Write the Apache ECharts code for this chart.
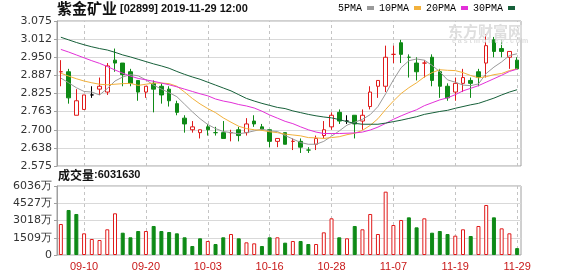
<!DOCTYPE html>
<html>
<head>
<meta charset="utf-8">
<script src="https://cdn.jsdelivr.net/npm/echarts@6/dist/echarts.min.js"></script>
<style>
html,body{margin:0;padding:0;background:#fff;}
#chart{width:578px;height:276px;}
</style>
</head>
<body>
<div id="chart"></div>
<script>
// 紫金矿业 (02899) daily K-line, 2019-09-05 .. 2019-11-29
const dates = ['09-05','09-06','09-09','09-10','09-11','09-12','09-13','09-16','09-17','09-18',
  '09-19','09-20','09-23','09-24','09-25','09-26','09-27','09-30','10-02','10-03',
  '10-04','10-08','10-09','10-10','10-11','10-14','10-15','10-16','10-17','10-18',
  '10-21','10-22','10-23','10-24','10-25','10-28','10-29','10-30','10-31','11-01',
  '11-04','11-05','11-06','11-07','11-08','11-11','11-12','11-13','11-14','11-15',
  '11-18','11-19','11-20','11-21','11-22','11-25','11-26','11-27','11-28','11-29'];

const opens = [2.90,2.90,2.75,2.77,2.82,2.84,2.83,2.94,2.93,2.90,
  2.87,2.83,2.86,2.85,2.84,2.79,2.74,2.70,2.69,2.71,
  2.69,2.69,2.69,2.70,2.69,2.73,2.71,2.70,2.66,2.69,
  2.66,2.66,2.63,2.65,2.68,2.71,2.76,2.73,2.75,2.73,
  2.78,2.85,2.85,2.96,3.00,2.95,2.93,2.93,2.95,2.90,
  2.85,2.83,2.86,2.87,2.90,2.93,3.01,2.98,2.95,2.94];

const closes = [2.90,2.81,2.80,2.82,2.82,2.85,2.92,2.93,2.89,2.86,
  2.83,2.85,2.84,2.82,2.80,2.76,2.72,2.71,2.70,2.70,
  2.69,2.67,2.69,2.68,2.72,2.72,2.70,2.66,2.67,2.65,
  2.66,2.64,2.63,2.67,2.70,2.75,2.73,2.73,2.72,2.75,
  2.83,2.87,2.95,2.96,2.96,2.95,2.90,2.93,2.87,2.85,
  2.81,2.86,2.88,2.86,2.88,2.99,2.97,2.97,2.97,2.91];

const lows = [2.85,2.79,2.75,2.77,2.81,2.82,2.82,2.90,2.85,2.85,
  2.80,2.81,2.76,2.79,2.78,2.75,2.69,2.69,2.67,2.68,
  2.68,2.67,2.66,2.66,2.68,2.71,2.70,2.64,2.64,2.65,
  2.63,2.62,2.62,2.63,2.67,2.70,2.72,2.72,2.67,2.70,
  2.77,2.81,2.83,2.93,2.93,2.88,2.87,2.88,2.85,2.81,
  2.80,2.80,2.83,2.81,2.85,2.88,2.95,2.95,2.91,2.91];

const highs = [2.94,2.91,2.84,2.82,2.85,2.88,2.93,2.98,2.93,2.91,
  2.87,2.85,2.87,2.86,2.85,2.80,2.75,2.73,2.70,2.72,
  2.71,2.73,2.70,2.71,2.74,2.75,2.72,2.70,2.67,2.69,
  2.67,2.67,2.64,2.68,2.73,2.76,2.77,2.75,2.75,2.77,
  2.85,2.87,2.99,2.99,3.01,2.96,2.95,2.94,2.96,2.91,
  2.86,2.88,2.91,2.88,2.91,3.03,3.02,3.01,2.97,2.95];

// turnover in 万股
const volumes = [2712,3937,3587,1896,1400,1312,2248,3648,1951,1548,
  2099,2099,2537,2099,2012,1896,1548,787,1461,1225,
  962,1548,1837,1461,1108,1020,787,1548,1548,1079,
  1225,1225,962,962,1983,3208,1548,1461,2537,2248,
  3587,1837,5540,2624,3062,3295,2420,3208,1951,2099,
  1837,1691,2248,1662,2537,4374,3295,2333,1896,603.163];

const ma5 = [2.878,2.862,2.845,2.832,2.830,2.820,2.842,2.868,2.882,2.890,
  2.886,2.872,2.854,2.840,2.828,2.814,2.788,2.762,2.738,2.718,
  2.704,2.694,2.690,2.686,2.690,2.696,2.702,2.696,2.694,2.680,
  2.668,2.656,2.650,2.650,2.660,2.678,2.696,2.716,2.726,2.736,
  2.752,2.780,2.824,2.872,2.914,2.938,2.944,2.940,2.922,2.900,
  2.872,2.864,2.854,2.852,2.858,2.894,2.916,2.934,2.956,2.962];

const ma10 = [2.895,2.885,2.876,2.868,2.862,2.857,2.855,2.857,2.859,2.860,
  2.853,2.857,2.861,2.861,2.859,2.850,2.830,2.808,2.789,2.773,
  2.759,2.741,2.726,2.712,2.704,2.700,2.698,2.693,2.690,2.685,
  2.682,2.679,2.673,2.672,2.670,2.673,2.676,2.683,2.688,2.698,
  2.715,2.738,2.770,2.799,2.825,2.845,2.862,2.882,2.897,2.907,
  2.905,2.904,2.897,2.887,2.879,2.883,2.890,2.894,2.904,2.910];

const ma20 = [2.977,2.968,2.958,2.948,2.938,2.929,2.918,2.906,2.895,2.885,
  2.877,2.872,2.867,2.861,2.855,2.848,2.840,2.832,2.824,2.817,
  2.806,2.799,2.794,2.787,2.782,2.775,2.764,2.751,2.740,2.729,
  2.721,2.710,2.700,2.692,2.687,2.687,2.687,2.688,2.689,2.692,
  2.699,2.709,2.722,2.736,2.748,2.759,2.769,2.783,2.793,2.803,
  2.810,2.821,2.834,2.843,2.852,2.864,2.876,2.888,2.901,2.909];

const ma30 = [3.019,3.010,3.001,2.993,2.986,2.980,2.975,2.967,2.958,2.951,
  2.943,2.935,2.927,2.920,2.912,2.901,2.891,2.882,2.874,2.864,
  2.854,2.844,2.834,2.821,2.808,2.799,2.791,2.784,2.777,2.773,
  2.765,2.759,2.753,2.748,2.744,2.741,2.735,2.728,2.722,2.719,
  2.719,2.719,2.723,2.728,2.733,2.739,2.745,2.753,2.758,2.763,
  2.767,2.774,2.780,2.786,2.791,2.800,2.809,2.820,2.830,2.838];

const priceTicks = ['2.575','2.638','2.700','2.763','2.825','2.887','2.950','3.012','3.075'];
const volumeTicks = ['0','1509万','3018万','4527万','6036万'];
const dateLabels = ['09-10','09-20','10-03','10-16','10-28','11-07','11-19','11-29'];

const RED = '#e01b1b';
const GREEN = '#0e8a16';
const FRAME = '#a0a0a0';

// candles; a cross (open == close) takes its colour from the previous close
const candleData = dates.map((d, i) => {
  const item = { value: [opens[i], closes[i], lows[i], highs[i]] };
  if (opens[i] === closes[i]) {
    const prev = i > 0 ? closes[i - 1] : -Infinity;
    const c = closes[i] > prev ? RED : (closes[i] < prev ? GREEN : '#000');
    item.itemStyle = { color: c, color0: c, borderColor: c, borderColor0: c };
  }
  return item;
});

// volume bars: hollow red when the close did not fall, solid green otherwise
const volumeData = volumes.map((v, i) => {
  const up = i === 0 || closes[i] >= closes[i - 1];
  return {
    value: v,
    itemStyle: up ? { color: '#fff', borderColor: RED, borderWidth: 1 } : { color: GREEN, borderColor: GREEN, borderWidth: 1 }
  };
});

const latestVolume = String(Math.round(volumes[volumes.length - 1] * 10000));

const dateGrid = {
  data: dateLabels.map(d => ({ xAxis: d })),
  symbol: ['none', 'none'],
  silent: true,
  z: 1,
  label: { show: false },
  lineStyle: { type: [3, 3], color: '#c4c4c4', width: 1 },
  animation: false
};

const maSeries = [
  ['5PMA', ma5, '#9a9a9a'],
  ['10PMA', ma10, '#f2b13c'],
  ['20PMA', ma20, '#e330d8'],
  ['30PMA', ma30, '#17603a']
].map(([name, data, color]) => ({
  name, type: 'line', data, xAxisIndex: 0, yAxisIndex: 0,
  symbol: 'none', showSymbol: false, color, z: 3,
  lineStyle: { width: 1, color }
}));

const chart = echarts.init(document.getElementById('chart'), null, { renderer: 'canvas' });
chart.setOption({
  animation: false,
  backgroundColor: '#fff',
  title: [
    {
      text: '{a|紫金矿业}{b|[02899] 2019-11-29 12:00}',
      left: 57, top: 1, padding: 0,
      textStyle: { rich: {
        a: { fontFamily: 'Noto Sans CJK SC', fontSize: 15, color: '#111', padding: [0, 3, 0, 0] },
        b: { fontFamily: 'Liberation Sans', fontSize: 11, color: '#111' }
      } }
    },
    {
      text: '{a|成交量}{b|:' + latestVolume + '}',
      left: 58, top: 169, padding: 0,
      textStyle: { rich: {
        a: { fontFamily: 'Noto Sans CJK SC', fontSize: 12, color: '#111' },
        b: { fontFamily: 'Liberation Sans', fontSize: 11, color: '#111' }
      } }
    },
    {
      text: '东方财富网',
      left: 448, top: 24, padding: 0,
      textStyle: { fontFamily: 'Noto Sans CJK SC', fontSize: 15, fontWeight: 'bold', color: '#dedede' }
    },
    {
      text: 'e a s t m o n e y . c o m',
      left: 452, top: 38, padding: 0,
      textStyle: { fontFamily: 'Liberation Sans', fontSize: 7, color: '#dedede' }
    }
  ],
  legend: {
    data: ['5PMA', '10PMA', '20PMA', '30PMA'],
    left: 338, top: 3, padding: 0,
    align: 'right', icon: 'rect', itemWidth: 7, itemHeight: 4, itemGap: 5,
    selectedMode: false,
    textStyle: { fontFamily: 'Liberation Mono', fontSize: 10, color: '#000', padding: 0 }
  },
  grid: [
    { left: 57, top: 21, width: 464, height: 145, show: true, borderColor: FRAME, borderWidth: 1 },
    { left: 57, top: 186, width: 464, height: 69, show: true, borderColor: FRAME, borderWidth: 1 }
  ],
  xAxis: [
    {
      type: 'category', gridIndex: 0, data: dates, boundaryGap: true,
      axisLine: { show: false }, axisTick: { show: false },
      axisLabel: { show: false }, splitLine: { show: false }
    },
    {
      type: 'category', gridIndex: 1, data: dates, boundaryGap: true,
      axisLine: { show: false }, axisTick: { show: false },
      axisLabel: {
        interval: (i, v) => dateLabels.includes(v),
        color: '#c81818', fontSize: 11, fontFamily: 'Liberation Sans', margin: 6
      },
      splitLine: { show: false }
    }
  ],
  yAxis: [
    {
      type: 'value', gridIndex: 0, min: 2.575, max: 3.075, interval: 0.0625, scale: true,
      axisLine: { show: true, lineStyle: { color: FRAME } },
      axisTick: { show: true, length: 3, lineStyle: { color: FRAME } },
      axisLabel: {
        formatter: v => priceTicks[Math.round((v - 2.575) / 0.0625)],
        fontFamily: 'DejaVu Sans', fontSize: 11, color: '#333', margin: 5
      },
      splitLine: { show: true, lineStyle: { color: '#d9d9d9', width: 1 } }
    },
    {
      type: 'value', gridIndex: 1, min: 0, max: 6036, interval: 1509,
      axisLine: { show: true, lineStyle: { color: FRAME } },
      axisTick: { show: true, length: 3, lineStyle: { color: FRAME } },
      axisLabel: {
        formatter: v => volumeTicks[Math.round(v / 1509)],
        fontFamily: 'DejaVu Sans', fontSize: 11, color: '#333', margin: 5
      },
      splitLine: { show: true, lineStyle: { color: '#d9d9d9', width: 1 } }
    }
  ],
  series: [
    {
      name: 'K', type: 'candlestick', data: candleData,
      xAxisIndex: 0, yAxisIndex: 0, barWidth: 4, z: 2,
      itemStyle: { color: '#fff', color0: GREEN, borderColor: RED, borderColor0: GREEN, borderWidth: 1 },
      markLine: dateGrid
    },
    ...maSeries,
    {
      name: 'VOL', type: 'bar', data: volumeData,
      xAxisIndex: 1, yAxisIndex: 1, barWidth: 4, z: 2,
      markLine: dateGrid
    }
  ]
});
</script>
</body>
</html>
